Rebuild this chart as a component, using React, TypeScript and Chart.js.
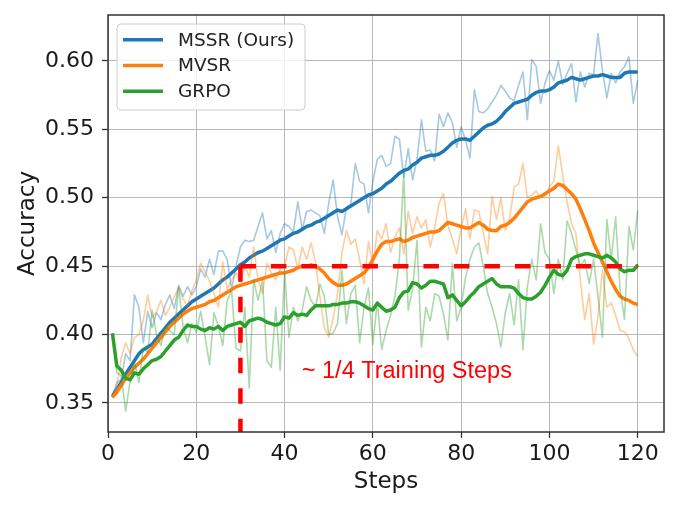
import React, { useEffect, useRef } from "react";
import Chart from "chart.js/auto";

// ---------- data ----------
const steps = Array.from({ length: 120 }, (_, i) => i + 1);

const mssrRaw = [
  0.355, 0.365, 0.367, 0.386, 0.381, 0.429, 0.420, 0.394, 0.417, 0.405,
  0.416, 0.411, 0.422, 0.429, 0.419, 0.436, 0.428, 0.435, 0.429, 0.435,
  0.448, 0.442, 0.455, 0.444, 0.461, 0.461, 0.455, 0.433, 0.450, 0.464,
  0.469, 0.468, 0.469, 0.479, 0.489, 0.470, 0.476, 0.460, 0.474, 0.481,
  0.479, 0.475, 0.497, 0.477, 0.490, 0.491, 0.489, 0.487, 0.474, 0.496,
  0.513, 0.486, 0.473, 0.493, 0.495, 0.525, 0.512, 0.510, 0.489, 0.512,
  0.528, 0.531, 0.523, 0.525, 0.545, 0.543, 0.515, 0.536, 0.513, 0.528,
  0.557, 0.534, 0.535, 0.527, 0.561, 0.552, 0.562, 0.555, 0.537, 0.552,
  0.542, 0.529, 0.579, 0.563, 0.562, 0.565, 0.570, 0.575, 0.582, 0.578,
  0.573, 0.571, 0.582, 0.592, 0.557, 0.601, 0.596, 0.569, 0.584, 0.593,
  0.586, 0.600, 0.583, 0.591, 0.598, 0.570, 0.592, 0.581, 0.591, 0.590,
  0.620, 0.593, 0.573, 0.591, 0.584, 0.592, 0.596, 0.603, 0.569, 0.586,
];
const mssrSmooth = [
  0.355, 0.360, 0.365, 0.371, 0.376, 0.381, 0.386, 0.389, 0.391, 0.393,
  0.397, 0.401, 0.405, 0.409, 0.412, 0.415, 0.418, 0.421, 0.424, 0.426,
  0.428, 0.430, 0.432, 0.434, 0.437, 0.440, 0.442, 0.445, 0.448, 0.451,
  0.453, 0.456, 0.458, 0.460, 0.461, 0.463, 0.465, 0.467, 0.469, 0.470,
  0.472, 0.474, 0.475, 0.477, 0.479, 0.480, 0.482, 0.483, 0.485, 0.487,
  0.489, 0.491, 0.490, 0.492, 0.494, 0.496, 0.498, 0.500, 0.502, 0.503,
  0.505, 0.507, 0.510, 0.512, 0.515, 0.518, 0.520, 0.521, 0.524, 0.526,
  0.529, 0.530, 0.531, 0.531, 0.532, 0.534, 0.537, 0.540, 0.542, 0.543,
  0.543, 0.542, 0.545, 0.548, 0.551, 0.553, 0.554, 0.556, 0.559, 0.563,
  0.566, 0.569, 0.570, 0.571, 0.572, 0.575, 0.577, 0.578, 0.578, 0.579,
  0.581, 0.584, 0.585, 0.586, 0.588, 0.587, 0.586, 0.587, 0.588, 0.589,
  0.589, 0.590, 0.589, 0.588, 0.588, 0.588, 0.591, 0.592, 0.592, 0.592,
];
const mvsrRaw = [
  0.354, 0.362, 0.383, 0.394, 0.386, 0.398, 0.400, 0.410, 0.429, 0.412,
  0.417, 0.425, 0.414, 0.420, 0.428, 0.434, 0.426, 0.421, 0.432, 0.440,
  0.452, 0.446, 0.439, 0.430, 0.420, 0.453, 0.433, 0.440, 0.445, 0.438,
  0.450, 0.442, 0.464, 0.440, 0.430, 0.452, 0.445, 0.440, 0.448, 0.450,
  0.464, 0.462, 0.448, 0.464, 0.455, 0.467, 0.453, 0.428, 0.405, 0.398,
  0.412, 0.430, 0.460, 0.476, 0.466, 0.470, 0.455, 0.437, 0.468, 0.450,
  0.476, 0.470, 0.481, 0.460, 0.471, 0.478, 0.459, 0.490, 0.474, 0.486,
  0.478, 0.484, 0.464, 0.478, 0.496, 0.503, 0.480, 0.470, 0.459, 0.478,
  0.492, 0.470, 0.491, 0.490, 0.474, 0.459, 0.501, 0.484, 0.500, 0.476,
  0.485, 0.508, 0.510, 0.525, 0.500, 0.502, 0.505, 0.500, 0.501, 0.508,
  0.512, 0.538, 0.517, 0.497, 0.481, 0.474, 0.440, 0.411, 0.430, 0.393,
  0.413, 0.447, 0.420, 0.423, 0.414, 0.403, 0.402, 0.397, 0.389, 0.384,
];
const mvsrSmooth = [
  0.354, 0.358, 0.363, 0.368, 0.372, 0.376, 0.379, 0.382, 0.386, 0.390,
  0.394, 0.398, 0.402, 0.406, 0.409, 0.412, 0.415, 0.417, 0.419, 0.420,
  0.421, 0.422, 0.424, 0.425, 0.427, 0.429, 0.431, 0.433, 0.435, 0.436,
  0.437, 0.438, 0.439, 0.440, 0.441, 0.442, 0.443, 0.444, 0.445, 0.445,
  0.446, 0.447, 0.449, 0.450, 0.450, 0.451, 0.450, 0.448, 0.445, 0.441,
  0.438, 0.436, 0.436, 0.437, 0.439, 0.441, 0.443, 0.445, 0.449, 0.455,
  0.461, 0.466, 0.468, 0.468, 0.469, 0.470, 0.468, 0.469, 0.471, 0.472,
  0.473, 0.474, 0.475, 0.475, 0.476, 0.479, 0.482, 0.481, 0.480, 0.479,
  0.478, 0.478, 0.480, 0.482, 0.480, 0.477, 0.476, 0.476, 0.479, 0.480,
  0.482, 0.485, 0.489, 0.493, 0.497, 0.499, 0.500, 0.501, 0.503, 0.505,
  0.507, 0.510, 0.509, 0.506, 0.503, 0.499, 0.492, 0.484, 0.476, 0.467,
  0.460, 0.453, 0.446, 0.439, 0.433, 0.428, 0.426, 0.425, 0.423, 0.422,
];
const grpoRaw = [
  0.400, 0.372, 0.370, 0.344, 0.366, 0.380, 0.365, 0.390, 0.387, 0.418,
  0.400, 0.392, 0.406, 0.403, 0.400, 0.435, 0.406, 0.394, 0.408, 0.402,
  0.417, 0.398, 0.378, 0.416, 0.406, 0.392, 0.425, 0.432, 0.390, 0.388,
  0.420, 0.361, 0.440, 0.425, 0.440, 0.381, 0.376, 0.420, 0.374, 0.447,
  0.398, 0.420, 0.410, 0.418, 0.435, 0.425, 0.420, 0.437, 0.428, 0.400,
  0.401, 0.408, 0.447, 0.408, 0.430, 0.436, 0.394, 0.420, 0.434, 0.393,
  0.424, 0.389, 0.403, 0.414, 0.428, 0.455, 0.518, 0.418, 0.433, 0.469,
  0.391, 0.420, 0.410, 0.430, 0.428, 0.415, 0.396, 0.452, 0.410, 0.420,
  0.442, 0.455, 0.464, 0.467, 0.450, 0.430, 0.420, 0.408, 0.391, 0.416,
  0.430, 0.407, 0.440, 0.389, 0.435, 0.455, 0.440, 0.481, 0.460, 0.455,
  0.430, 0.455, 0.440, 0.483, 0.474, 0.462, 0.450, 0.455, 0.437, 0.455,
  0.428, 0.398, 0.484, 0.455, 0.486, 0.433, 0.411, 0.479, 0.462, 0.491,
];
const grpoSmooth = [
  0.401, 0.377, 0.374, 0.368, 0.367, 0.372, 0.371, 0.375, 0.378, 0.381,
  0.382, 0.384, 0.388, 0.392, 0.396, 0.398, 0.403, 0.407, 0.406, 0.406,
  0.404, 0.403, 0.405, 0.404, 0.406, 0.403, 0.406, 0.407, 0.408, 0.409,
  0.406, 0.410, 0.411, 0.412, 0.411, 0.409, 0.408, 0.407, 0.408, 0.413,
  0.412, 0.416, 0.414, 0.415, 0.414, 0.418, 0.421, 0.421, 0.421, 0.421,
  0.422, 0.422, 0.423, 0.423, 0.424, 0.424, 0.423, 0.421, 0.419, 0.418,
  0.423, 0.420, 0.417, 0.418, 0.420, 0.427, 0.431, 0.432, 0.438, 0.437,
  0.434, 0.436, 0.439, 0.439, 0.438, 0.437, 0.427, 0.429, 0.425, 0.421,
  0.424, 0.428, 0.431, 0.435, 0.437, 0.439, 0.441, 0.437, 0.435, 0.435,
  0.435, 0.434, 0.430, 0.427, 0.426, 0.426, 0.428, 0.431, 0.436, 0.442,
  0.447, 0.444, 0.443, 0.447, 0.455, 0.457, 0.458, 0.459, 0.459, 0.458,
  0.457, 0.456, 0.458, 0.456, 0.453, 0.448, 0.446, 0.447, 0.447, 0.451,
];

const seriesNames = ["MSSR (Ours)", "MVSR", "GRPO"];
const seriesColors = ["31,119,180", "255,127,14", "44,160,44"];
const xTicks = [0, 20, 40, 60, 80, 100, 120];
const yTicks = [0.35, 0.4, 0.45, 0.5, 0.55, 0.6];
const xMin = 0;
const xMax = 125.95;
const yMin = 0.3288;
const yMax = 0.6336;
// reference marker: ~1/4 of training
const refStep = 30;
const refAcc = 0.45;
const lastStep = 120;
const annotation = { text: "~ 1/4 Training Steps", x: 43.9, y: 0.368 };

const FONT = "'DejaVu Sans', sans-serif";

const toPts = (arr: number[]) => steps.map((s, i) => ({ x: s, y: arr[i] }));

const decorPlugin = {
  id: "decor",
  afterDraw(chart: any) {
    const { ctx, chartArea: a, scales } = chart;
    ctx.save();
    // frame
    ctx.strokeStyle = "#333";
    ctx.lineWidth = 1.5;
    ctx.strokeRect(a.left, a.top, a.right - a.left, a.bottom - a.top);
    // annotation text
    ctx.fillStyle = "#ff0000";
    ctx.font = "23.5px 'Liberation Sans', Arial, sans-serif";
    ctx.textAlign = "left";
    ctx.textBaseline = "alphabetic";
    ctx.fillText(
      annotation.text,
      scales.x.getPixelForValue(annotation.x),
      scales.y.getPixelForValue(annotation.y)
    );
    // legend
    const bx = a.left + 9;
    const by = a.top + 9;
    const bw = 188;
    const bh = 86;
    const r = 4;
    ctx.beginPath();
    ctx.moveTo(bx + r, by);
    ctx.lineTo(bx + bw - r, by);
    ctx.quadraticCurveTo(bx + bw, by, bx + bw, by + r);
    ctx.lineTo(bx + bw, by + bh - r);
    ctx.quadraticCurveTo(bx + bw, by + bh, bx + bw - r, by + bh);
    ctx.lineTo(bx + r, by + bh);
    ctx.quadraticCurveTo(bx, by + bh, bx, by + bh - r);
    ctx.lineTo(bx, by + r);
    ctx.quadraticCurveTo(bx, by, bx + r, by);
    ctx.closePath();
    ctx.fillStyle = "rgba(255,255,255,0.8)";
    ctx.fill();
    ctx.strokeStyle = "#cccccc";
    ctx.lineWidth = 1;
    ctx.stroke();
    ctx.font = `18.5px ${FONT}`;
    ctx.textBaseline = "middle";
    seriesNames.forEach((name, i) => {
      const cy = by + 15.7 + i * 25.8;
      ctx.strokeStyle = `rgb(${seriesColors[i]})`;
      ctx.lineWidth = 3.5;
      ctx.beginPath();
      ctx.moveTo(bx + 6, cy);
      ctx.lineTo(bx + 46, cy);
      ctx.stroke();
      ctx.fillStyle = "#222";
      ctx.fillText(name, bx + 61, cy + 1);
    });
    ctx.restore();
  },
};

export default function App() {
  const ref = useRef<HTMLCanvasElement | null>(null);
  useEffect(() => {
    if (!ref.current) return;
    const raws = [mssrRaw, mvsrRaw, grpoRaw];
    const smooths = [mssrSmooth, mvsrSmooth, grpoSmooth];
    const refLine = {
      borderColor: "#ff0000",
      borderWidth: 4.5,
      borderDash: [15.5, 15],
      pointRadius: 0,
      order: 0,
    };
    const datasets: any[] = [
      {
        ...refLine,
        label: "ref-h",
        data: [
          { x: refStep, y: refAcc },
          { x: lastStep, y: refAcc },
        ],
      },
      {
        ...refLine,
        label: "ref-v",
        data: [
          { x: refStep, y: refAcc },
          { x: refStep, y: yMin - 0.01 },
        ],
      },
    ];
    for (let i = 0; i < 3; i++) {
      datasets.push({
        label: seriesNames[i] + " raw",
        data: toPts(raws[i]),
        borderColor: `rgba(${seriesColors[i]},0.4)`,
        borderWidth: 1.6,
        pointRadius: 0,
        borderJoinStyle: "round",
        order: 20 - i * 2,
      });
      datasets.push({
        label: seriesNames[i],
        data: toPts(smooths[i]),
        borderColor: `rgb(${seriesColors[i]})`,
        borderWidth: 3.5,
        pointRadius: 0,
        borderJoinStyle: "round",
        order: 19 - i * 2,
      });
    }
    const chart = new Chart(ref.current, {
      type: "line",
      data: { datasets },
      plugins: [decorPlugin],
      options: {
        animation: false,
        responsive: false,
        layout: { padding: { top: 15, right: 16, left: 0, bottom: 0 } },
        plugins: { legend: { display: false }, tooltip: { enabled: false } },
        scales: {
          x: {
            type: "linear",
            min: xMin,
            max: xMax,
            afterBuildTicks: (s: any) => {
              s.ticks = xTicks.map((v) => ({ value: v }));
            },
            afterFit: (s: any) => {
              s.height = 78;
              s.paddingLeft = 0;
              s.paddingRight = 0;
            },
            grid: { color: "#b8b8b8", lineWidth: 1, tickLength: 6, tickColor: "#333", tickWidth: 1.3 },
            border: { display: false },
            ticks: {
              color: "#1a1a1a",
              font: { family: FONT, size: 22 },
              padding: 3,
              maxRotation: 0,
              autoSkip: false,
              callback: (v: any) => String(v),
            },
            title: {
              display: true,
              text: "Steps",
              color: "#1a1a1a",
              font: { family: FONT, size: 23 },
              padding: { top: 0, bottom: 14 },
            },
          },
          y: {
            type: "linear",
            min: yMin,
            max: yMax,
            afterBuildTicks: (s: any) => {
              s.ticks = yTicks.map((v) => ({ value: v }));
            },
            afterFit: (s: any) => {
              s.width = 108;
              s.paddingTop = 0;
              s.paddingBottom = 0;
            },
            grid: { color: "#b8b8b8", lineWidth: 1, tickLength: 6, tickColor: "#333", tickWidth: 1.3 },
            border: { display: false },
            ticks: {
              color: "#1a1a1a",
              font: { family: FONT, size: 22 },
              padding: 8,
              autoSkip: false,
              callback: (v: any) => Number(v).toFixed(2),
            },
            title: {
              display: true,
              text: "Accuracy",
              color: "#1a1a1a",
              font: { family: FONT, size: 23 },
              padding: { top: 14, bottom: 0 },
            },
          },
        },
      },
    });
    return () => chart.destroy();
  }, []);
  return (
    <div style={{ position: "fixed", left: 0, top: 0, width: 680, height: 510, background: "#fff" }}>
      <canvas ref={ref} width={680} height={510} style={{ width: 680, height: 510, display: "block" }} />
    </div>
  );
}
